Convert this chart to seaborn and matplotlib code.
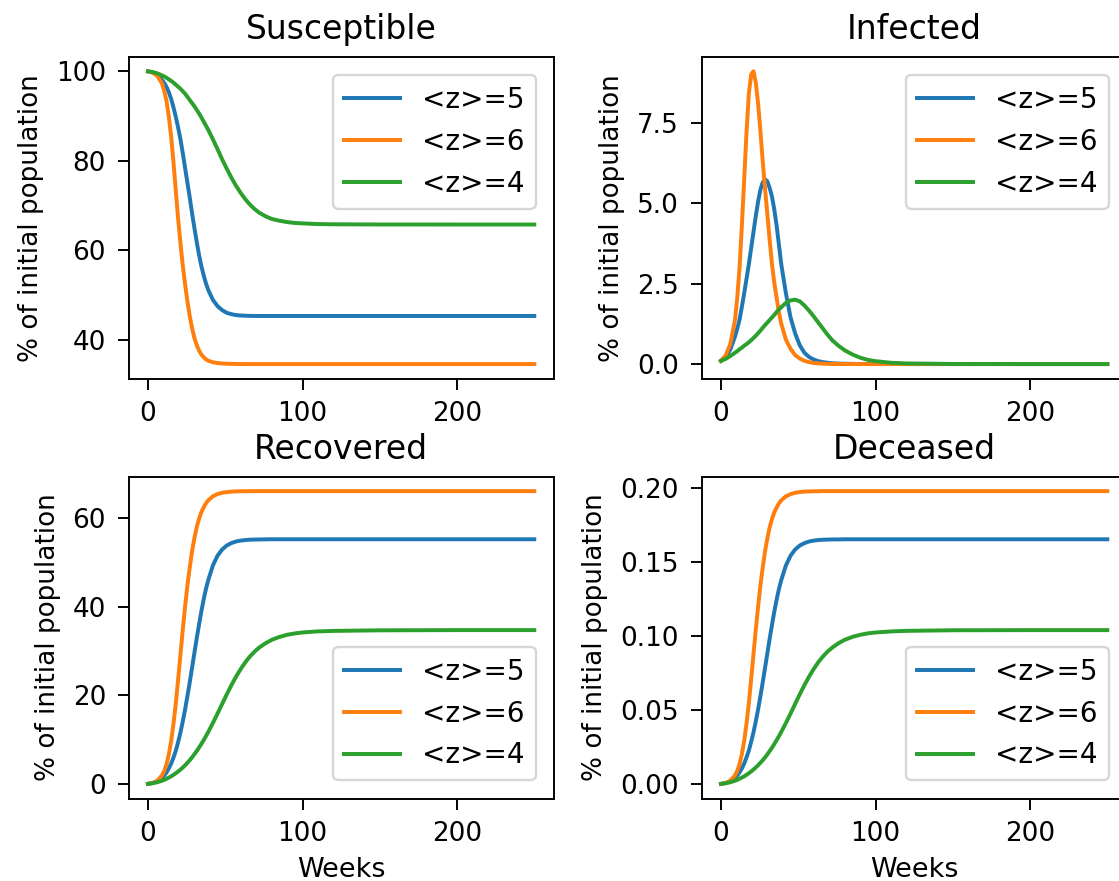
import matplotlib
matplotlib.use("Agg")
import matplotlib.pyplot as plt
import seaborn as sns
import pandas as pd

# Time axis (weeks)
weeks = [0, 3, 6, 9, 10.5, 12, 13.5, 15, 16.5, 18, 19.5, 21, 22.5, 24, 25.5, 27, 28.5,
         30, 31.5, 33, 34.5, 36, 37.5, 39, 42, 45, 48, 51, 54, 57, 60, 63, 66, 69, 72,
         76, 80, 85, 90, 95, 100, 110, 120, 150, 200, 250]

series_labels = ["<z>=5", "<z>=6", "<z>=4"]
series_colors = ["#1f77b4", "#ff7f0e", "#2ca02c"]

# Susceptible (% of initial population)
susceptible_z5 = [100, 99.75, 99.2, 98.1, 97.4, 96.5, 95.3, 93.8, 91.9, 89.8, 87.4, 84.8,
                  81.7, 78.4, 75.1, 71.8, 68.3, 65.0, 61.9, 59.0, 56.5, 54.4, 52.6, 51.1,
                  48.9, 47.5, 46.6, 46.0, 45.7, 45.5, 45.4, 45.36, 45.32, 45.31, 45.3,
                  45.3, 45.3, 45.3, 45.3, 45.3, 45.3, 45.3, 45.3, 45.3, 45.3, 45.3]
susceptible_z6 = [100, 99.7, 99.0, 97.3, 95.6, 93.3, 89.8, 85.3, 79.6, 73.2, 67.0, 61.5,
                  56.6, 52.4, 48.6, 45.3, 42.6, 40.4, 38.8, 37.6, 36.7, 36.1, 35.6, 35.3,
                  34.95, 34.78, 34.68, 34.62, 34.59, 34.57, 34.56, 34.55, 34.55, 34.55,
                  34.55, 34.55, 34.55, 34.55, 34.55, 34.55, 34.55, 34.55, 34.55, 34.55,
                  34.55, 34.55]
susceptible_z4 = [100, 99.85, 99.55, 99.1, 98.85, 98.55, 98.2, 97.85, 97.45, 97.0, 96.55,
                  96.1, 95.55, 95.0, 94.3, 93.6, 92.9, 92.2, 91.4, 90.6, 89.7, 88.8, 87.85,
                  86.9, 84.8, 82.6, 80.3, 78.2, 76.2, 74.4, 72.8, 71.4, 70.2, 69.2, 68.4,
                  67.6, 67.0, 66.6, 66.3, 66.1, 66.0, 65.85, 65.8, 65.76, 65.75, 65.75]

# Infected
infected_z5 = [0.10, 0.22, 0.45, 0.85, 1.1, 1.38, 1.78, 2.2, 2.65, 3.1, 3.6, 4.1, 4.6,
               5.05, 5.42, 5.65, 5.74, 5.68, 5.47, 5.2, 4.8, 4.3, 3.7, 3.1, 2.2, 1.45,
               0.95, 0.58, 0.35, 0.22, 0.14, 0.09, 0.06, 0.04, 0.025, 0.015, 0.01, 0.005,
               0.003, 0.002, 0.001, 0, 0, 0, 0, 0]
infected_z6 = [0.10, 0.27, 0.62, 1.35, 2.05, 3.0, 4.3, 5.75, 7.2, 8.4, 9.0, 9.1, 8.75,
               8.1, 7.25, 6.3, 5.45, 4.65, 3.85, 3.1, 2.52, 2.05, 1.6, 1.25, 0.76, 0.47,
               0.28, 0.17, 0.10, 0.06, 0.035, 0.02, 0.012, 0.007, 0.004, 0.002, 0.001, 0,
               0, 0, 0, 0, 0, 0, 0, 0]
infected_z4 = [0.10, 0.16, 0.25, 0.35, 0.40, 0.46, 0.51, 0.57, 0.62, 0.68, 0.74, 0.81,
               0.88, 0.96, 1.04, 1.13, 1.21, 1.29, 1.37, 1.45, 1.53, 1.62, 1.70, 1.77,
               1.90, 1.98, 2.0, 1.95, 1.82, 1.66, 1.48, 1.29, 1.1, 0.91, 0.74, 0.57, 0.43,
               0.3, 0.2, 0.13, 0.09, 0.04, 0.02, 0.003, 0, 0]

# Recovered
recovered_z5 = [0, 0.19, 0.57, 1.33, 1.9, 2.6, 3.5, 4.6, 5.95, 7.5, 9.45, 11.6, 14.1,
                16.8, 19.8, 22.9, 26.2, 29.5, 32.8, 35.9, 38.9, 41.6, 44.0, 46.0, 49.3,
                51.5, 52.9, 53.8, 54.35, 54.7, 54.9, 55.02, 55.1, 55.13, 55.15, 55.18,
                55.2, 55.2, 55.2, 55.2, 55.2, 55.2, 55.2, 55.2, 55.2, 55.2]
recovered_z6 = [0, 0.2, 0.7, 1.9, 2.9, 4.5, 6.7, 9.7, 13.6, 18.2, 23.6, 29.2, 34.8, 40.0,
                44.8, 48.8, 52.5, 55.4, 57.9, 59.8, 61.3, 62.4, 63.3, 64.0, 64.9, 65.4,
                65.7, 65.85, 65.95, 66.0, 66.03, 66.04, 66.05, 66.06, 66.06, 66.06, 66.06,
                66.06, 66.06, 66.06, 66.06, 66.06, 66.06, 66.06, 66.06, 66.06]
recovered_z4 = [0, 0.14, 0.37, 0.70, 0.91, 1.15, 1.42, 1.71, 2.04, 2.40, 2.8, 3.22, 3.69,
                4.19, 4.75, 5.34, 5.98, 6.67, 7.4, 8.18, 9.0, 9.86, 10.77, 11.72, 13.74,
                15.87, 18.05, 20.22, 22.29, 24.2, 25.93, 27.45, 28.76, 29.85, 30.78,
                31.72, 32.49, 33.15, 33.64, 33.95, 34.17, 34.41, 34.52, 34.65, 34.7, 34.7]

# Deceased
deceased_z5 = [0, 0.0006, 0.0017, 0.0040, 0.0057, 0.0078, 0.0105, 0.0138, 0.0179, 0.0225,
               0.0284, 0.0348, 0.0423, 0.0504, 0.0594, 0.0687, 0.0786, 0.0885, 0.0984,
               0.1077, 0.1167, 0.1248, 0.1320, 0.1380, 0.1479, 0.1545, 0.1587, 0.1614,
               0.1630, 0.1641, 0.1647, 0.1651, 0.1653, 0.1654, 0.1655, 0.1655, 0.1656,
               0.1656, 0.1656, 0.1656, 0.1656, 0.1656, 0.1656, 0.1656, 0.1656, 0.1656]
deceased_z6 = [0, 0.0006, 0.0021, 0.0057, 0.0087, 0.0135, 0.0201, 0.0291, 0.0408, 0.0546,
               0.0708, 0.0876, 0.1044, 0.1200, 0.1344, 0.1464, 0.1575, 0.1662, 0.1737,
               0.1794, 0.1839, 0.1872, 0.1899, 0.1920, 0.1947, 0.1962, 0.1971, 0.1976,
               0.1979, 0.1980, 0.1981, 0.1981, 0.1982, 0.1982, 0.1982, 0.1982, 0.1982,
               0.1982, 0.1982, 0.1982, 0.1982, 0.1982, 0.1982, 0.1982, 0.1982, 0.1982]
deceased_z4 = [0, 0.0004, 0.0011, 0.0021, 0.0027, 0.0035, 0.0043, 0.0051, 0.0061, 0.0072,
               0.0084, 0.0097, 0.0111, 0.0126, 0.0143, 0.0160, 0.0179, 0.0200, 0.0222,
               0.0245, 0.0270, 0.0296, 0.0323, 0.0352, 0.0412, 0.0476, 0.0542, 0.0607,
               0.0669, 0.0726, 0.0778, 0.0824, 0.0863, 0.0896, 0.0923, 0.0952, 0.0975,
               0.0995, 0.1009, 0.1019, 0.1025, 0.1032, 0.1036, 0.1040, 0.1041, 0.1041]

panels = [
    ("Susceptible", [susceptible_z5, susceptible_z6, susceptible_z4], "upper right", None),
    ("Infected", [infected_z5, infected_z6, infected_z4], "upper right", [0, 2.5, 5, 7.5]),
    ("Recovered", [recovered_z5, recovered_z6, recovered_z4], "lower right", None),
    ("Deceased", [deceased_z5, deceased_z6, deceased_z4], "lower right", None),
]

DPI = 172
W, H = 1119, 881

plt.rcParams.update({
    "font.family": ["DejaVu Sans"],
    "xtick.labelsize": 11,
    "ytick.labelsize": 11,
    "xtick.major.size": 4.5,
    "ytick.major.size": 4.5,
    "xtick.major.pad": 5.0,
    "ytick.major.pad": 5.0,
    "axes.linewidth": 0.8,
})

fig = plt.figure(figsize=(W / DPI, H / DPI), dpi=DPI)
fig.patch.set_facecolor("white")

col_x = [128.7 / W, 701.7 / W]
row_y = [1 - 378.7 / H, 1 - 798.5 / H]
ax_w = 424.9 / W
ax_h = 322.0 / H

for idx, (title, values, loc, yticks) in enumerate(panels):
    r, c = divmod(idx, 2)
    ax = fig.add_axes([col_x[c], row_y[r], ax_w, ax_h])
    frame = pd.DataFrame({"week": weeks})
    for lab, col, vals in zip(series_labels, series_colors, values):
        frame[lab] = vals
        sns.lineplot(data=frame, x="week", y=lab, color=col, label=lab,
                     linewidth=1.65, ax=ax, legend=False)
    ax.set_title(title, fontsize=13.8, pad=7.5)
    ax.set_ylabel("% of initial population", fontsize=11, labelpad=5)
    ax.set_xlabel("Weeks" if r == 1 else "", fontsize=11.3)
    ax.set_xticks([0, 100, 200])
    if yticks is not None:
        ax.set_yticks(yticks)
    ax.legend(loc=loc, fontsize=11.6, borderaxespad=0.65)

fig.savefig("out.png", dpi=DPI, facecolor="white")
